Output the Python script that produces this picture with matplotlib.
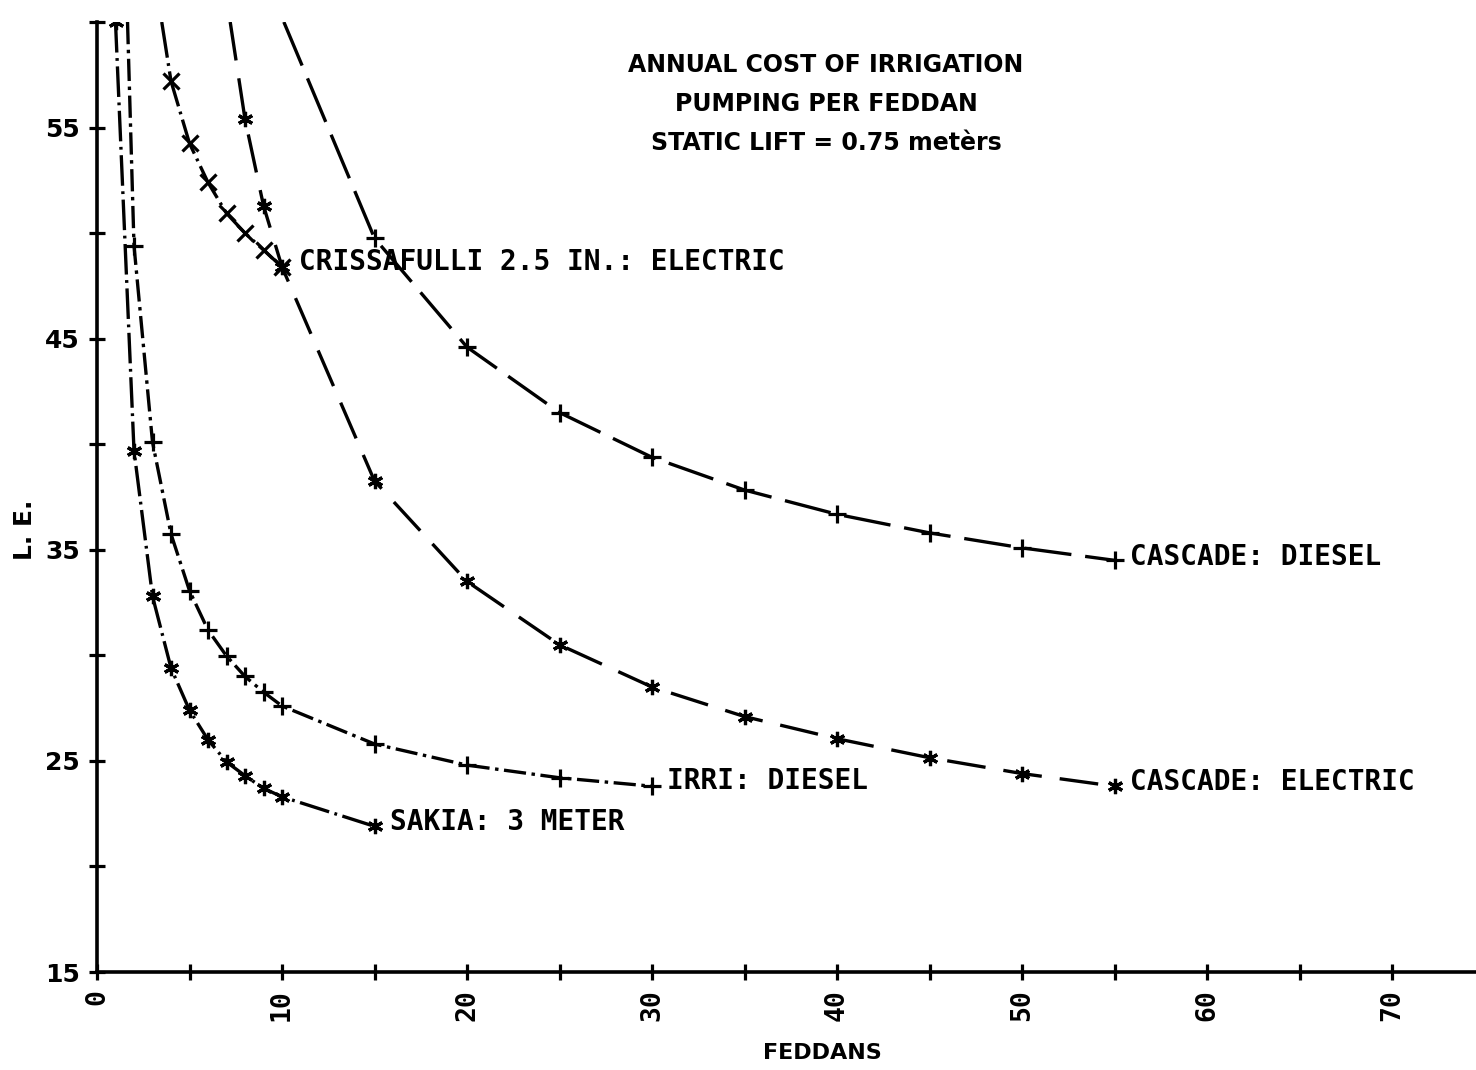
import numpy as np
import matplotlib
matplotlib.use("Agg")
import matplotlib.pyplot as plt

# data (feddans vs L.E. per feddan)
# first point of each curve is where the line leaves the top of the frame
sakia_f = [1, 2, 3, 4, 5, 6, 7, 8, 9, 10, 15]
sakia_le = [60.0, 39.7, 32.8, 29.4, 27.4, 26.0, 24.95, 24.3, 23.7, 23.3, 21.9]

irri_f = [1.65, 2, 3, 4, 5, 6, 7, 8, 9, 10, 15, 20, 25, 30]
irri_le = [60.0, 49.4, 40.1, 35.75, 33.06, 31.2, 29.97, 29.0, 28.26, 27.6,
           25.8, 24.8, 24.2, 23.8]

criss_f = [3.5, 4, 5, 6, 7, 8, 9, 10]
criss_le = [60.0, 57.2, 54.25, 52.4, 50.94, 50.0, 49.2, 48.4]

casc_el_f = [7.2, 8, 9, 10, 15, 20, 25, 30, 35, 40, 45, 50, 55]
casc_el_le = [60.0, 55.4, 51.3, 48.4, 38.26, 33.5, 30.5, 28.5, 27.1, 26.05,
              25.15, 24.4, 23.8]

casc_di_f = [10.1, 15, 20, 25, 30, 35, 40, 45, 50, 55]
casc_di_le = [60.0, 49.76, 44.6, 41.5, 39.38, 37.83, 36.68, 35.8, 35.09, 34.5]

x_ticks = list(range(0, 75, 5))
x_tick_labels = ["0", "", "10", "", "20", "", "30", "", "40", "", "50", "",
                 "60", "", "70"]
y_ticks = list(range(15, 65, 5))
y_tick_labels = ["15", "", "25", "", "35", "", "45", "", "55", ""]

plt.rcParams["lines.scale_dashes"] = False
MONO = "DejaVu Sans Mono"

fig = plt.figure(figsize=(14.76, 10.70), dpi=100)
ax = fig.add_axes([97 / 1476, 98 / 1070, (1476 - 97) / 1476, 950 / 1070])
ax.set_xlim(0, (1476 - 97) / 18.5)
ax.set_ylim(15, 60)

LW = 2.4
star = dict(marker=(6, 2, 0), ms=11, mew=2.3)
plus = dict(marker="+", ms=13, mew=2.3)
cross = dict(marker="x", ms=12, mew=2.3)

curves = [
    (sakia_f, sakia_le, (22, 4, 2, 4), star, "SAKIA: 3 METER", (11, 3)),
    (irri_f, irri_le, (16, 4, 2.5, 4), plus, "IRRI: DIESEL", (11, 3.5)),
    (criss_f, criss_le, (26, 4, 2, 4), cross, "CRISSAFULLI 2.5 IN.: ELECTRIC", (12, 3.5)),
    (casc_el_f, casc_el_le, (28, 13), star, "CASCADE: ELECTRIC", (11, 3)),
    (casc_di_f, casc_di_le, (34, 10), plus, "CASCADE: DIESEL", (11, 2.5)),
]

for f, le, dash, mk, label, off in curves:
    # the exit point at the top edge gets no marker, except SAKIA's f=1 point
    every = None if f[0] == 1 else list(range(1, len(f)))
    ax.plot(f, le, color="black", lw=LW, dashes=dash, markevery=every, **mk)
    ax.annotate(label, xy=(f[-1], le[-1]), xytext=off, textcoords="offset points",
                fontsize=20, fontweight="bold", family=MONO, va="center", ha="left")

for side in ["top", "right"]:
    ax.spines[side].set_visible(False)
for side in ["left", "bottom"]:
    ax.spines[side].set_linewidth(2.6)

ax.set_xticks(x_ticks)
ax.set_xticklabels(x_tick_labels, rotation=90, fontsize=19, fontweight="bold",
                   family=MONO)
ax.set_yticks(y_ticks)
ax.set_yticklabels(y_tick_labels, fontsize=18, fontweight="bold")
ax.tick_params(axis="both", direction="inout", length=11, width=2.3)
ax.tick_params(axis="x", pad=7)
ax.tick_params(axis="y", pad=7)

fig.text(822 / 1476, 1 - 1053 / 1070, "FEDDANS", fontsize=16, fontweight="bold",
         ha="center", va="center")
fig.text(25 / 1476, 1 - 530 / 1070, "L. E.", fontsize=18, fontweight="bold",
         ha="center", va="center", rotation=90)

title_lines = ["ANNUAL COST OF IRRIGATION", "PUMPING PER FEDDAN",
               "STATIC LIFT = 0.75 metèrs"]
for i, line in enumerate(title_lines):
    fig.text(826 / 1476, 1 - (65 + 39 * i) / 1070, line, fontsize=17,
             fontweight="bold", ha="center", va="center")

fig.savefig("out.png", dpi=100)
